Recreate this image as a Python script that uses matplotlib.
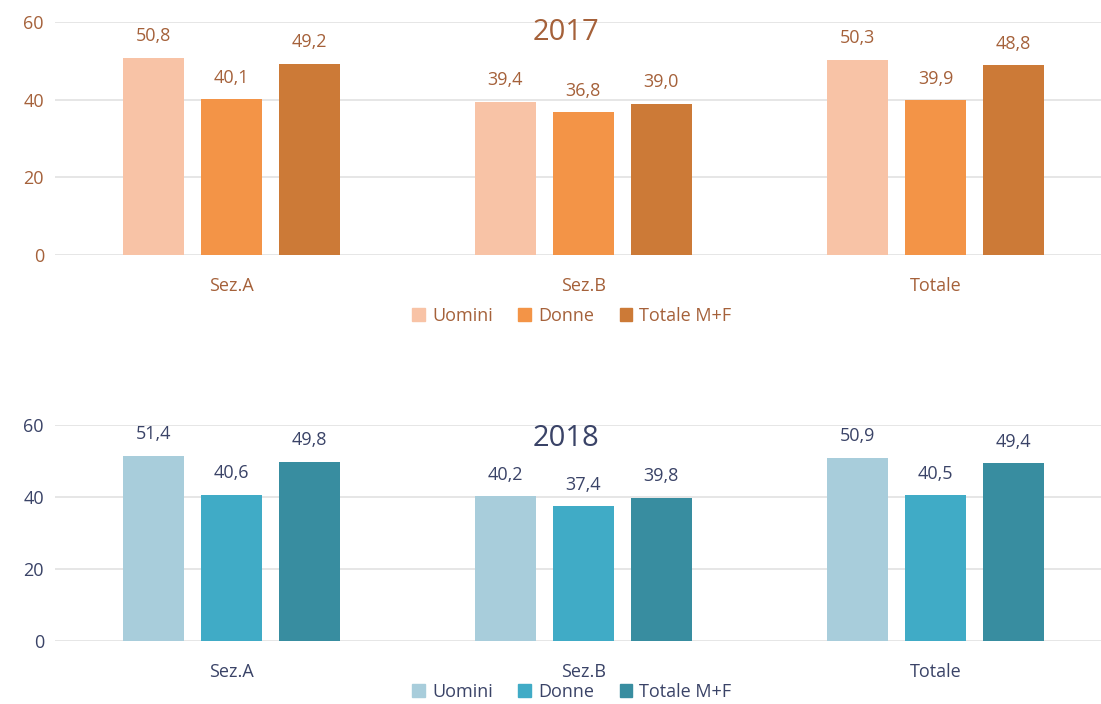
import matplotlib.pyplot as plt
import numpy as np
from matplotlib.patches import Patch

plt.rcParams['font.family'] = ['Open Sans', 'DejaVu Sans']
plt.rcParams['font.weight'] = 'medium'

# Data
categories = ['Sez.A', 'Sez.B', 'Totale']
series = ['Uomini', 'Donne', 'Totale M+F']
values_2017 = [[50.8, 39.4, 50.3], [40.1, 36.8, 39.9], [49.2, 39.0, 48.8]]
values_2018 = [[51.4, 40.2, 50.9], [40.6, 37.4, 40.5], [49.8, 39.8, 49.4]]
yticks = [0, 20, 40, 60]

colors_2017 = ['#F8C3A6', '#F39447', '#CC7A37']
colors_2018 = ['#A8CDDB', '#40ABC6', '#388DA0']
text_2017 = '#A5613A'
text_2018 = '#3A4367'

fig = plt.figure(figsize=(11.01, 7.04), dpi=100)
ax1 = fig.add_axes([0.05, 0.6378, 0.95, 0.331])
ax2 = fig.add_axes([0.05, 0.0895, 0.95, 0.3068])

x = np.arange(len(categories))
width = 0.173
offset = 0.2216


def draw(ax, values, colors, tcol, year, title_y, legend_y):
    for i, (vals, c) in enumerate(zip(values, colors)):
        bars = ax.bar(x + (i - 1) * offset, vals, width, color=c, zorder=2)
        for b, v in zip(bars, vals):
            ax.annotate(f'{v:.1f}'.replace('.', ','),
                        (b.get_x() + b.get_width() / 2, v),
                        xytext=(0, 9), textcoords='offset points',
                        ha='center', va='bottom', fontsize=13, color=tcol)
    ax.set_xlim(-0.5, 2.47)
    ax.set_ylim(0, 60)
    ax.set_yticks(yticks)
    ax.set_xticks(x)
    ax.set_xticklabels(categories)
    ax.grid(axis='y', color='#E2E2E2', linewidth=1.2, zorder=0)
    for s in ax.spines.values():
        s.set_visible(False)
    ax.tick_params(axis='both', length=0, labelsize=13, labelcolor=tcol)
    ax.tick_params(axis='x', pad=16)
    ax.tick_params(axis='y', pad=8)
    fig.text(566 / 1101, 1 - title_y / 704, year, ha='center', va='center',
             fontsize=21, color=tcol)
    handles = [Patch(color=c) for c in colors]
    leg = fig.legend(handles, series, loc='center', ncol=3, frameon=False,
                     bbox_to_anchor=(572 / 1101, 1 - legend_y / 704),
                     fontsize=13, handlelength=0.7, handleheight=0.7,
                     handletextpad=0.4, columnspacing=1.4)
    for t in leg.get_texts():
        t.set_color(tcol)


draw(ax1, values_2017, colors_2017, text_2017, '2017', 32, 316)
draw(ax2, values_2018, colors_2018, text_2018, '2018', 438, 692)

fig.savefig('out.png', dpi=100)
